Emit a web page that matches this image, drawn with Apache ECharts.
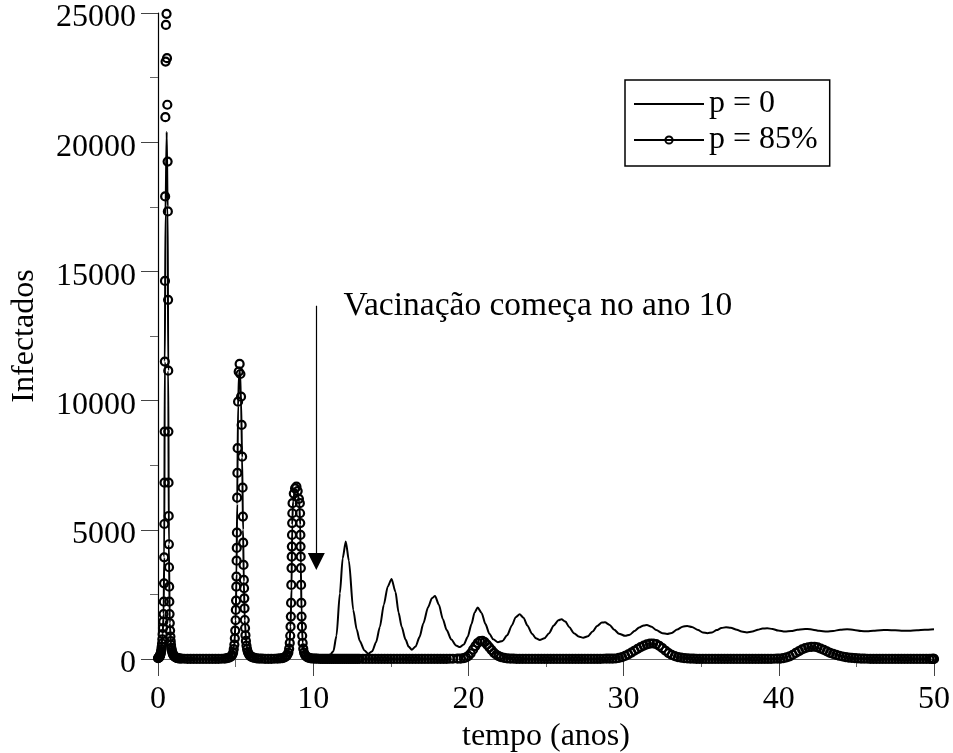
<!DOCTYPE html>
<html>
<head>
<meta charset="utf-8">
<script src="https://cdn.jsdelivr.net/npm/echarts@6/dist/echarts.min.js"></script>
<style>
html,body{margin:0;padding:0;background:#fff;}
#chart{width:953px;height:753px;}
</style>
</head>
<body>
<div id="chart"></div>
<script>
// ---- labels ----
const xTitle = 'tempo (anos)';
const yTitle = 'Infectados';
const seriesNames = ['p = 0', 'p = 85%'];
const annotText = 'Vacinação começa no ano 10';
const annotArrow = [[10.2, 13670], [10.2, 3775]];
const annotTextAt = [11.92, 13650];

// ---- p = 0 (solid line), [tempo, infectados] ----
const p0Early = [[0,30],[0.1,95],[0.2,300],[0.3,960],[0.36,1740],[0.4,3935],[0.44,11510],[0.48,17200],[0.56,20400],[0.62,17500],[0.66,11160],[0.7,4440],[0.76,1390],[0.84,545],[0.95,210],[1.1,80],[1.3,28],[1.6,10],[2,4],[2.6,2],[3.2,2],[3.8,5],[4.2,13],[4.5,35],[4.75,120],[4.92,560],[5,1500],[5.06,3300],[5.1,6000],[5.16,9800],[5.22,11000],[5.28,11150],[5.35,10000],[5.42,7800],[5.48,5000],[5.53,3000],[5.59,1500],[5.7,520],[5.85,190],[6.1,60],[6.5,16],[7,8],[7.6,10],[8,32],[8.3,130],[8.45,400],[8.54,1250],[8.6,2700],[8.65,5200],[8.7,6100],[8.8,6450],[8.9,6550],[9,6400],[9.1,6100],[9.16,5200],[9.2,3700],[9.25,1800],[9.32,620],[9.45,170],[9.7,55]];
const p0Late = [[10,30],[10.4,35],[10.8,80],[11.1,170],[11.3,300],[11.5,900],[11.72,2540],[11.9,3900],[12.1,4550],[12.3,3800],[12.58,1900],[12.8,1150],[13,700],[13.3,330],[13.55,200],[13.8,300],[14.05,650],[14.3,1250],[14.55,2100],[14.8,2800],[15.05,3100],[15.3,2600],[15.5,1800],[15.7,1250],[15.95,750],[16.15,480],[16.35,360],[16.6,480],[16.85,850],[17.1,1380],[17.4,2000],[17.65,2350],[17.85,2440],[18.1,2100],[18.35,1550],[18.6,1120],[18.9,750],[19.2,520],[19.45,460],[19.7,560],[19.95,850],[20.2,1350],[20.4,1800],[20.6,1990],[20.85,1780],[21.1,1350],[21.35,980],[21.6,760],[21.9,650],[22.2,700],[22.5,920],[22.8,1300],[23.05,1620],[23.3,1730],[23.55,1600],[23.8,1300],[24.1,980],[24.35,800],[24.6,740],[24.9,800],[25.2,1000],[25.5,1300],[25.8,1500],[26,1535],[26.25,1450],[26.5,1230],[26.8,1000],[27.1,870],[27.4,825],[27.7,880],[28,1060],[28.3,1280],[28.6,1410],[28.8,1420],[29.1,1320],[29.4,1130],[29.7,980],[30.1,895],[30.4,940],[30.7,1080],[31,1220],[31.3,1300],[31.5,1315],[31.8,1250],[32.1,1120],[32.5,1000],[32.8,970],[33.1,1010],[33.45,1140],[33.8,1250],[34.1,1280],[34.4,1240],[34.8,1120],[35.1,1030],[35.4,995],[35.7,1030],[36,1120],[36.3,1200],[36.6,1230],[36.9,1210],[37.3,1130],[37.6,1060],[37.95,1030],[38.3,1060],[38.65,1130],[38.95,1180],[39.25,1190],[39.6,1160],[39.95,1100],[40.4,1060],[40.8,1080],[41.2,1130],[41.55,1155],[41.85,1160],[42.2,1135],[42.6,1090],[43.1,1060],[43.5,1085],[43.95,1130],[44.4,1150],[44.85,1125],[45.3,1085],[45.7,1070],[46.1,1090],[46.55,1115],[47,1120],[47.5,1110],[48,1095],[48.4,1095],[48.9,1110],[49.4,1130],[50,1150]];

// ---- p = 85% (circles), [tempo, infectados] ----
const p85Rise1 = [[0,30],[0.02,38],[0.04,48],[0.06,60],[0.08,76],[0.1,95],[0.12,120],[0.14,150],[0.16,190],[0.18,240],[0.2,300],[0.22,380],[0.24,480],[0.26,600],[0.28,760],[0.3,960],[0.32,1200],[0.34,1450],[0.36,1740]];
const p85Peak1 = [[0.375,2220],[0.39,2930],[0.4,3935],[0.41,5225],[0.42,6825],[0.43,8800],[0.44,11510],[0.45,14630],[0.46,17900],[0.475,20970],[0.49,23120],[0.51,24540],[0.55,24970],[0.58,23250],[0.6,21450],[0.62,19250],[0.635,17320],[0.65,13900],[0.66,11160],[0.67,8800],[0.68,6825],[0.69,5535],[0.7,4440],[0.71,3550],[0.72,2800],[0.73,2220],[0.745,1740],[0.76,1390],[0.78,1100],[0.8,870],[0.82,690],[0.84,545],[0.86,430],[0.89,340],[0.92,270],[0.95,210],[0.98,165],[1.02,130],[1.06,100],[1.1,80],[1.15,60],[1.2,45],[1.26,35],[1.33,26],[1.41,20],[1.5,14]];
const p85Flat1 = [[1.7,9],[1.9,6],[2.1,4],[2.3,3],[2.5,2],[2.7,2],[2.9,2],[3.1,2],[3.3,2],[3.5,3],[3.7,4],[3.9,6],[4.1,10],[4.3,18],[4.45,30],[4.58,55]];
const p85Peak2 = [[4.7,90],[4.78,150],[4.84,240],[4.88,380],[4.92,560],[4.95,800],[4.975,1100],[5,1500],[5.015,1900],[5.03,2260],[5.045,2800],[5.055,3190],[5.065,3805],[5.075,4300],[5.085,4890],[5.1,6245],[5.115,7200],[5.13,8160],[5.16,9960],[5.2,11120],[5.26,11420],[5.31,11030],[5.35,10150],[5.39,9060],[5.42,7830],[5.45,6630],[5.47,5510],[5.49,4500],[5.51,3640],[5.53,3060],[5.545,2740],[5.56,2350],[5.575,1960],[5.59,1510],[5.61,1200],[5.635,920],[5.665,700],[5.7,520],[5.74,380],[5.79,270],[5.85,190],[5.92,130],[6,90],[6.1,60],[6.22,40],[6.36,26],[6.52,16],[6.7,11],[6.9,8],[7.1,7],[7.3,7],[7.5,9],[7.7,14],[7.87,22],[8.02,35],[8.15,60],[8.25,100]];
const p85Peak3 = [[8.33,160],[8.4,250],[8.45,400],[8.49,620],[8.52,900],[8.54,1250],[8.56,1640],[8.575,2170],[8.59,2865],[8.605,3520],[8.615,3960],[8.625,4350],[8.635,4800],[8.645,5260],[8.655,5640],[8.67,6030],[8.75,6400],[8.83,6600],[8.92,6670],[9,6500],[9.08,6200],[9.14,6030],[9.155,5640],[9.165,5260],[9.175,4800],[9.185,4350],[9.195,3960],[9.205,3520],[9.22,2865],[9.235,2170],[9.25,1640],[9.27,1250],[9.29,900],[9.32,620],[9.36,400],[9.41,250],[9.47,160],[9.55,100],[9.64,65],[9.74,42],[9.86,28]];
const p85Tail = [[9.98,19],[10.1,14],[10.22,11],[10.34,9],[10.46,7],[10.58,6],[10.7,5],[10.82,4],[10.94,4],[11.06,3],[11.18,3],[11.3,3],[11.42,3],[11.54,2],[11.66,2],[11.78,2],[11.9,2],[12.02,2],[12.14,2],[12.26,2],[12.38,2],[12.5,2],[12.62,2],[12.74,2],[12.86,2],[12.98,2]];
const p85Flat2 = [[13.2,2],[13.4,2],[13.6,2],[13.8,2],[14,2],[14.2,2],[14.4,2],[14.6,2],[14.8,2],[15,2],[15.2,2],[15.4,2],[15.6,2],[15.8,2],[16,3],[16.2,3],[16.4,3],[16.6,3],[16.8,3],[17,4],[17.2,4],[17.4,4],[17.6,5],[17.8,5],[18,6],[18.2,6],[18.4,7],[18.6,8],[18.8,9],[19,10],[19.3,11]];
const p85Bump1 = [[19.5,14],[19.7,30],[19.85,60],[20,120],[20.15,220],[20.3,360],[20.45,500],[20.6,620],[20.75,690],[20.9,700],[21.05,650],[21.2,560],[21.35,450],[21.5,340],[21.65,240],[21.8,165],[21.95,110],[22.1,72],[22.3,45],[22.5,28],[22.7,18],[22.9,12]];
const p85Flat3 = [[23.1,8],[23.3,6],[23.5,5],[23.7,4],[23.9,3],[24.1,3],[24.3,3],[24.5,2],[24.7,2],[24.9,2],[25.1,2],[25.3,2],[25.5,2],[25.7,2],[25.9,2],[26.1,2],[26.3,2],[26.5,2],[26.7,2],[26.9,3],[27.1,3],[27.3,3],[27.5,3],[27.7,4],[27.9,4],[28.1,5],[28.3,6],[28.5,7],[28.7,9],[28.9,11],[29.1,14],[29.3,17]];
const p85Bump2 = [[29.5,20],[29.7,40],[29.9,75],[30.1,120],[30.3,180],[30.5,250],[30.7,320],[30.9,390],[31.1,460],[31.3,520],[31.5,565],[31.7,595],[31.9,600],[32.1,575],[32.3,510],[32.5,420],[32.7,320],[32.9,230],[33.1,160],[33.3,110],[33.5,75],[33.7,50],[33.9,34],[34.1,23],[34.3,16]];
const p85Flat4 = [[34.5,11],[34.7,8],[34.9,6],[35.1,5],[35.3,4],[35.5,3],[35.7,3],[35.9,3],[36.1,2],[36.3,2],[36.5,2],[36.7,2],[36.9,2],[37.1,2],[37.3,2],[37.5,2],[37.7,2],[37.9,3],[38.1,3],[38.3,3],[38.5,4],[38.7,4],[38.9,5],[39.1,6],[39.3,7],[39.5,8],[39.7,10],[39.9,14]];
const p85Bump3 = [[40.1,18],[40.3,32],[40.5,60],[40.7,105],[40.9,165],[41.1,235],[41.3,305],[41.5,370],[41.7,420],[41.9,455],[42.1,472],[42.3,475],[42.5,450],[42.7,405],[42.9,350],[43.1,292],[43.3,240],[43.5,195],[43.7,157],[43.9,125],[44.1,97],[44.3,75],[44.5,56],[44.7,41],[44.9,30],[45.1,22]];
const p85Flat5 = [[45.3,16],[45.5,12],[45.7,9],[45.9,7],[46.1,5],[46.3,4],[46.5,4],[46.7,3],[46.9,3],[47.1,3],[47.3,2],[47.5,2],[47.7,2],[47.9,2],[48.1,2],[48.3,2],[48.5,2],[48.7,2],[48.9,2],[49.1,2],[49.3,2],[49.5,2],[49.7,2],[49.85,2],[49.93,2],[49.97,2],[50,2]];

const p0Data = p0Early.concat(p0Late);
const p85Data = [].concat(p85Rise1, p85Peak1, p85Flat1, p85Peak2, p85Peak3, p85Tail,
  p85Flat2, p85Bump1, p85Flat3, p85Bump2, p85Flat4, p85Bump3, p85Flat5);

const FONT = "'Liberation Serif', 'Times New Roman', 'DejaVu Serif', serif";
const chart = echarts.init(document.getElementById('chart'), null, {renderer: 'canvas'});

const axisCommon = {
  axisLabel: {fontFamily: FONT, fontSize: 32, color: '#000', formatter: v => String(v)},
  nameTextStyle: {fontFamily: FONT, fontSize: 32, color: '#000'},
  splitLine: {show: false},
  axisTick: {show: true, inside: false, length: 17, lineStyle: {color: '#444', width: 1}},
  minorTick: {show: true, splitNumber: 2, length: 8, lineStyle: {color: '#666', width: 1}}
};

chart.setOption({
  animation: false,
  backgroundColor: '#fff',
  grid: {left: 158, right: 19, top: 13, bottom: 94, containLabel: false, outerBoundsMode: 'none'},
  legend: {
    left: 625, top: 80,
    orient: 'vertical',
    backgroundColor: '#fff',
    borderColor: '#000', borderWidth: 1.5,
    padding: [8, 12, 10, 8],
    itemGap: 4,
    itemWidth: 70, itemHeight: 9,
    selectedMode: false,
    textStyle: {fontFamily: FONT, fontSize: 32, color: '#000'},
    data: [
      {name: seriesNames[0], itemStyle: {opacity: 0}},
      {name: seriesNames[1], lineStyle: {width: 2, opacity: 1, color: '#000'}}
    ]
  },
  xAxis: Object.assign({}, axisCommon, {
    type: 'value', min: 0, max: 50, interval: 10,
    name: xTitle, nameLocation: 'middle', nameGap: 58,
    axisLabel: Object.assign({}, axisCommon.axisLabel, {margin: 25}),
    axisLine: {show: true, onZero: false, lineStyle: {color: '#666', width: 1}}
  }),
  yAxis: Object.assign({}, axisCommon, {
    type: 'value', min: 0, max: 25000, interval: 5000,
    name: yTitle, nameLocation: 'middle', nameGap: 117, nameRotate: 90,
    axisLabel: Object.assign({}, axisCommon.axisLabel, {margin: 22, verticalAlign: 'top', lineHeight: 10}),
    axisLine: {show: true, onZero: false, lineStyle: {color: '#000', width: 1.2}}
  }),
  series: [
    {
      name: seriesNames[0], type: 'line', data: p0Data,
      symbol: 'none', smooth: 0.25, smoothMonotone: 'x', clip: false, silent: true,
      lineStyle: {color: '#000', width: 2},
      itemStyle: {color: '#000'},
      markLine: {
        silent: true, animation: false,
        symbol: ['none', 'triangle'], symbolSize: 17,
        label: {show: false},
        lineStyle: {color: '#000', width: 1.2, type: 'solid'},
        data: [[{coord: annotArrow[0]}, {coord: annotArrow[1]}]]
      },
      markPoint: {
        silent: true, animation: false,
        symbol: 'circle', symbolSize: 1,
        itemStyle: {color: 'rgba(0,0,0,0)'},
        label: {show: true, position: 'right', distance: 0, formatter: annotText,
          fontFamily: FONT, fontSize: 33.5, color: '#000'},
        data: [{coord: annotTextAt}]
      }
    },
    {
      name: seriesNames[1], type: 'line', data: p85Data,
      symbol: 'circle', symbolSize: 8, showSymbol: true, showAllSymbol: true,
      clip: false, silent: true,
      lineStyle: {color: '#000', width: 2, opacity: 0},
      itemStyle: {color: 'rgba(0,0,0,0)', borderColor: '#000', borderWidth: 2.2}
    }
  ]
});
</script>
</body>
</html>
